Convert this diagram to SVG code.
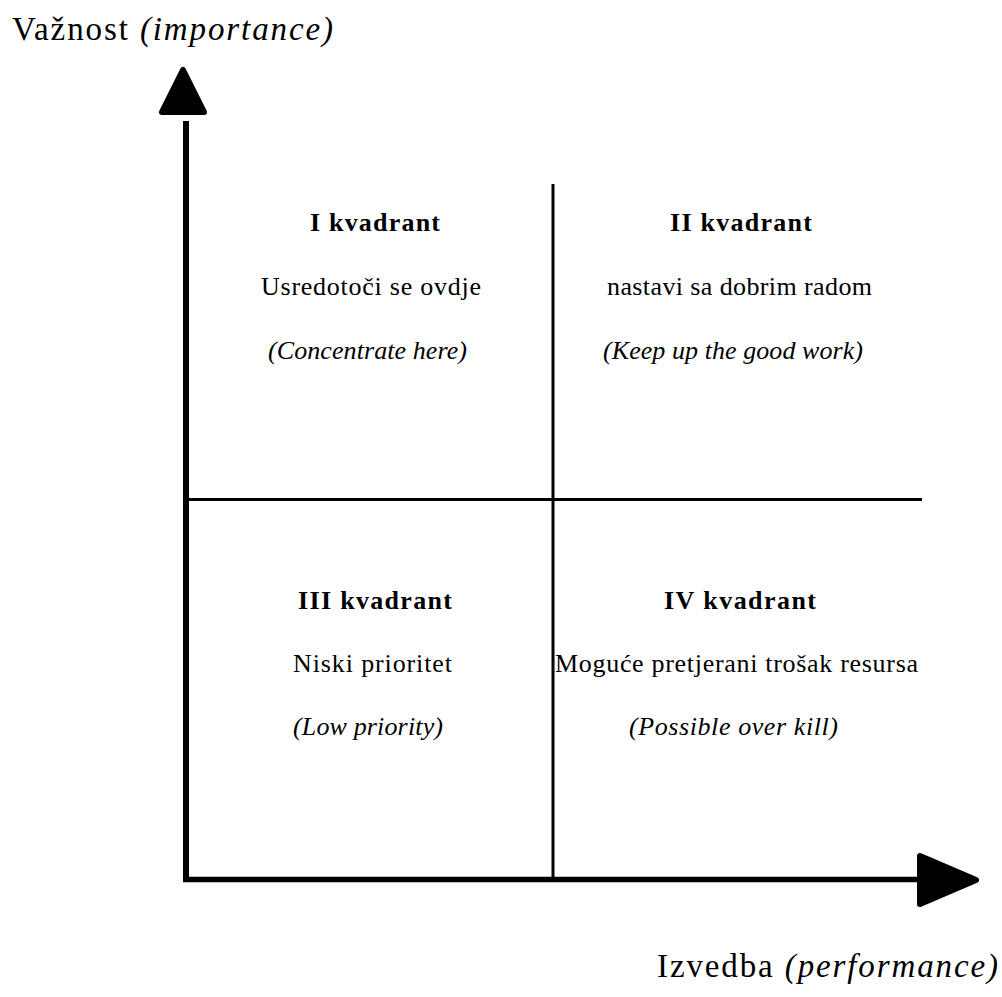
<svg xmlns="http://www.w3.org/2000/svg" width="1002" height="997" viewBox="0 0 1002 997">
<style>
.t{font-family:"Liberation Serif","Times New Roman",serif;fill:#000;text-anchor:start}
.ax{font-size:33px}
.q{font-size:26px}
.b{font-weight:bold}
.i{font-style:italic}
.ln{stroke:#000;fill:none}
.head{fill:#000;stroke:#000;stroke-width:6;stroke-linejoin:round}
</style>
<rect width="1002" height="997" fill="#fff"/>
<g id="connectors">
<line class="ln" x1="186" y1="121" x2="186" y2="881" stroke-width="6"/>
<line class="ln" x1="183" y1="879.5" x2="918" y2="879.5" stroke-width="5.5"/>
<polygon class="head" points="183,70 162,112 204,112"/>
<polygon class="head" points="920,856 920,904 976,880"/>
<line class="ln" x1="553" y1="184" x2="553" y2="880" stroke-width="3"/>
<line class="ln" x1="186" y1="499.5" x2="922" y2="499.5" stroke-width="3"/>
</g>
<g id="label-y">
<text class="t ax" x="12" y="40" textLength="321" lengthAdjust="spacing">Važnost <tspan class="i">(importance)</tspan></text>
</g>
<g id="label-x">
<text class="t ax" x="657" y="977" textLength="341" lengthAdjust="spacing">Izvedba <tspan class="i">(performance)</tspan></text>
</g>
<g id="q1">
<text class="t q b" x="310" y="231" textLength="130" lengthAdjust="spacing">I kvadrant</text>
<text class="t q" x="261" y="295" textLength="220" lengthAdjust="spacing">Usredotoči se ovdje</text>
<text class="t q i" x="268" y="359" textLength="199" lengthAdjust="spacing">(Concentrate here)</text>
</g>
<g id="q2">
<text class="t q b" x="670" y="231" textLength="142" lengthAdjust="spacing">II kvadrant</text>
<text class="t q" x="607" y="295" textLength="265" lengthAdjust="spacing">nastavi sa dobrim radom</text>
<text class="t q i" x="603" y="359" textLength="260" lengthAdjust="spacing">(Keep up the good work)</text>
</g>
<g id="q3">
<text class="t q b" x="298" y="609" textLength="154" lengthAdjust="spacing">III kvadrant</text>
<text class="t q" x="293" y="672" textLength="159" lengthAdjust="spacing">Niski prioritet</text>
<text class="t q i" x="293" y="735" textLength="150" lengthAdjust="spacing">(Low priority)</text>
</g>
<g id="q4">
<text class="t q b" x="664" y="609" textLength="152" lengthAdjust="spacing">IV kvadrant</text>
<text class="t q" x="555" y="672" textLength="363" lengthAdjust="spacing">Moguće pretjerani trošak resursa</text>
<text class="t q i" x="629" y="735" textLength="209" lengthAdjust="spacing">(Possible over kill)</text>
</g>
</svg>
